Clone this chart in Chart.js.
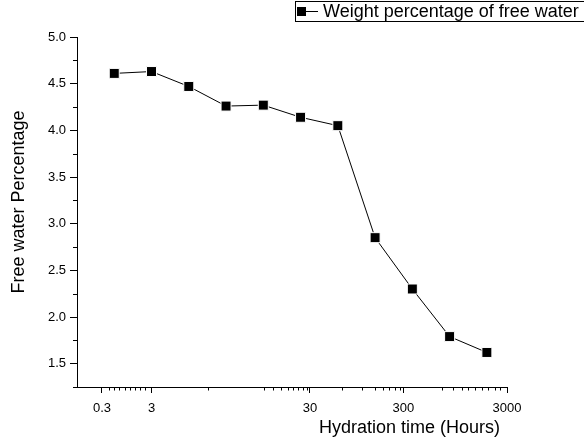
<!DOCTYPE html>
<html><head><meta charset="utf-8">
<script src="https://cdn.jsdelivr.net/npm/chart.js@4.4.1/dist/chart.umd.min.js"></script>
<style>html,body{margin:0;padding:0;background:#fff}#wrap{width:584px;height:441px;position:relative}</style>
</head><body><div id="wrap"><canvas id="c" width="584" height="441"></canvas></div>
<script>
// ---- data ----
const pointIndex = [0, 1, 2, 3, 4, 5, 6, 7, 8, 9, 10];
const freeWater = [4.61, 4.63, 4.47, 4.26, 4.27, 4.14, 4.05, 2.85, 2.30, 1.79, 1.62];
const seriesName = 'Weight percentage of free water';
const xTitle = 'Hydration time (Hours)';
const yTitle = 'Free water Percentage';
const xTickLabels = ['0.3', '3', '30', '300', '3000'];
const xTickPositions = [-0.33, 1.0, 5.25, 7.76, 10.54];
const xMinorTicks = [-0.15, -0.02, 0.13, 0.28, 0.41, 0.55, 0.68, 0.82,
  2.51, 4.01, 4.26, 4.47, 4.66, 4.79, 4.93, 5.06, 5.17,
  6.11, 6.65, 7.00, 7.21, 7.37, 7.54, 7.67,
  8.79, 9.09, 9.34, 9.50, 9.69, 9.87, 10.04, 10.22, 10.36];
const yTickValues = [1.5, 2.0, 2.5, 3.0, 3.5, 4.0, 4.5, 5.0];
const yMinorTicks = [1.25, 1.75, 2.25, 2.75, 3.25, 3.75, 4.25, 4.75];

const FONT = "'Liberation Sans', Arial, sans-serif";

const minorTicks = {
  id: 'minorTicks',
  afterDraw(chart) {
    const {ctx, scales: {x, y}, chartArea: a} = chart;
    ctx.save();
    ctx.strokeStyle = '#000';
    ctx.lineWidth = 1;
    ctx.beginPath();
    xMinorTicks.forEach(v => {
      const p = Math.round(x.getPixelForValue(v)) + 0.5;
      ctx.moveTo(p, a.bottom); ctx.lineTo(p, a.bottom + 3.5);
    });
    yMinorTicks.forEach(v => {
      const p = Math.round(y.getPixelForValue(v)) + 0.5;
      ctx.moveTo(a.left - 4, p); ctx.lineTo(a.left, p);
    });
    ctx.stroke();
    ctx.restore();
  }
};

const titlesAndLegend = {
  id: 'titlesAndLegend',
  afterDraw(chart) {
    const ctx = chart.ctx;
    const a = chart.chartArea;
    ctx.save();
    ctx.fillStyle = '#000';
    ctx.font = '18px ' + FONT;
    // x axis title
    ctx.textAlign = 'right';
    ctx.textBaseline = 'middle';
    ctx.fillText(xTitle, a.right - 7, 428);
    // y axis title
    ctx.save();
    ctx.translate(19, a.top + (a.bottom - a.top) / 2 - 10);
    ctx.rotate(-Math.PI / 2);
    ctx.textAlign = 'center';
    ctx.fillText(yTitle, 0, 0);
    ctx.restore();
    // legend box
    ctx.strokeStyle = '#000';
    ctx.lineWidth = 1;
    ctx.strokeRect(295.5, 1.5, 320, 20);
    ctx.beginPath();
    ctx.moveTo(297, 11.5); ctx.lineTo(318, 11.5);
    ctx.stroke();
    ctx.fillRect(297, 7, 9, 9);
    ctx.textAlign = 'left';
    ctx.fillText(seriesName, 323, 12);
    ctx.restore();
  }
};

new Chart(document.getElementById('c'), {
  type: 'line',
  data: {
    datasets: [{
      label: seriesName,
      data: pointIndex.map((x, i) => ({x: x, y: freeWater[i]})),
      borderColor: '#000',
      borderWidth: 1,
      backgroundColor: '#000',
      pointStyle: 'rect',
      pointRadius: 7.07,
      pointBackgroundColor: '#000',
      pointBorderColor: '#fff',
      pointBorderWidth: 1,
      tension: 0
    }]
  },
  options: {
    responsive: false,
    animation: false,
    devicePixelRatio: 1,
    layout: {padding: {left: 0, top: 37, right: 77, bottom: 0}},
    plugins: {legend: {display: false}, tooltip: {enabled: false}},
    scales: {
      x: {
        type: 'linear',
        min: -1,
        max: 10.54,
        afterBuildTicks: s => { s.ticks = xTickPositions.map(v => ({value: v})); },
        afterFit: s => { s.height = 54; },
        ticks: {
          autoSkip: false, maxRotation: 0, minRotation: 0,
          callback: (v, i) => xTickLabels[i],
          font: {family: FONT, size: 13}, color: '#000', padding: 8
        },
        grid: {drawOnChartArea: false, drawTicks: true, tickLength: 6, color: '#000'},
        border: {display: true, color: '#000', width: 1},
        title: {display: false}
      },
      y: {
        type: 'linear',
        min: 1.25,
        max: 5.0,
        afterBuildTicks: s => { s.ticks = yTickValues.map(v => ({value: v})); },
        afterFit: s => { s.width = 77; },
        ticks: {
          callback: v => Number(v).toFixed(1),
          font: {family: FONT, size: 13}, color: '#000', padding: 4
        },
        grid: {drawOnChartArea: false, drawTicks: true, tickLength: 7, color: '#000'},
        border: {display: true, color: '#000', width: 1},
        title: {display: false}
      }
    }
  },
  plugins: [minorTicks, titlesAndLegend]
});
</script>
</body></html>
